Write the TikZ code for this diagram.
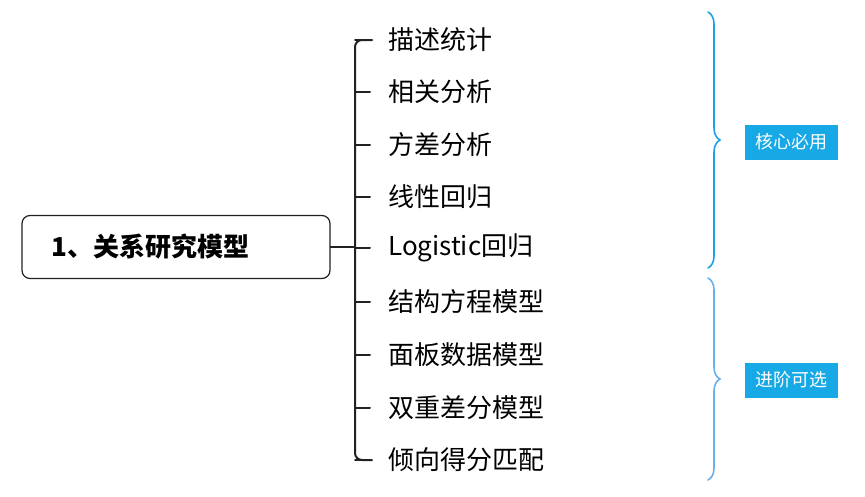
\documentclass[tikz,border=0pt]{standalone}
\usepackage{fontspec}
\setmainfont{Noto Sans CJK SC}
\usetikzlibrary{positioning,decorations.pathreplacing}
\definecolor{tagblue}{HTML}{17A8E6}
\definecolor{braceA}{HTML}{1EA0E8}
\definecolor{braceB}{HTML}{6AAEEA}
\definecolor{linegray}{HTML}{222222}
\begin{document}
\begin{tikzpicture}[x=1pt,y=-1pt,line cap=round]
% Styles
\tikzset{
  root box/.style={draw=linegray,line width=1.2pt,rounded corners=8pt,minimum width=308pt,minimum height=63pt},
  item text/.style={anchor=west,inner sep=0pt,font=\fontsize{26}{28}\selectfont},
  stub/.style={draw=linegray,line width=2pt},
  tag/.style={fill=tagblue,text=white,minimum width=93pt,minimum height=35pt,inner sep=0pt,font=\fontsize{18}{20}\selectfont},
  curly/.style={decorate,decoration={brace,amplitude=12pt},line width=1.6pt}
}
\useasboundingbox (0,0) rectangle (865,496);

% root
\node[root box] (root) at (176,247) {};
\node[anchor=west,font=\fontsize{26}{28}\selectfont\bfseries] (title) at (48,247) {1、关系研究模型};

% trunk
\coordinate (hub) at (355,247);
\draw[stub] (root.east) -- (hub);
\draw[stub,rounded corners=7pt] (372,40) -- (355,40) -- (355,460) -- (372,460);

% items
\foreach \name/\y/\txt in {i1/40/描述统计,i2/92/相关分析,i3/145/方差分析,i4/197/线性回归,
  i5/248/Logistic回归,i6/302/结构方程模型,i7/355/面板数据模型,i8/408/双重差分模型,i9/460/倾向得分匹配} {
  \node[item text] (\name) at (388,\y) {\txt};
  \coordinate (s\name) at (355,\y);
  \draw[stub] (s\name) -- (370,\y);
}

% braces and tags
\coordinate (b1t) at (708,12);
\coordinate (b1b) at (708,268);
\coordinate (b2t) at (708,278);
\coordinate (b2b) at (708,480);
\draw[curly,draw=braceA] (b1t) -- (b1b);
\draw[curly,draw=braceB] (b2t) -- (b2b);
\node[tag] (core) at (791,142) {核心必用};
\node[tag] (adv) at (791,380) {进阶可选};

\end{tikzpicture}
\end{document}
